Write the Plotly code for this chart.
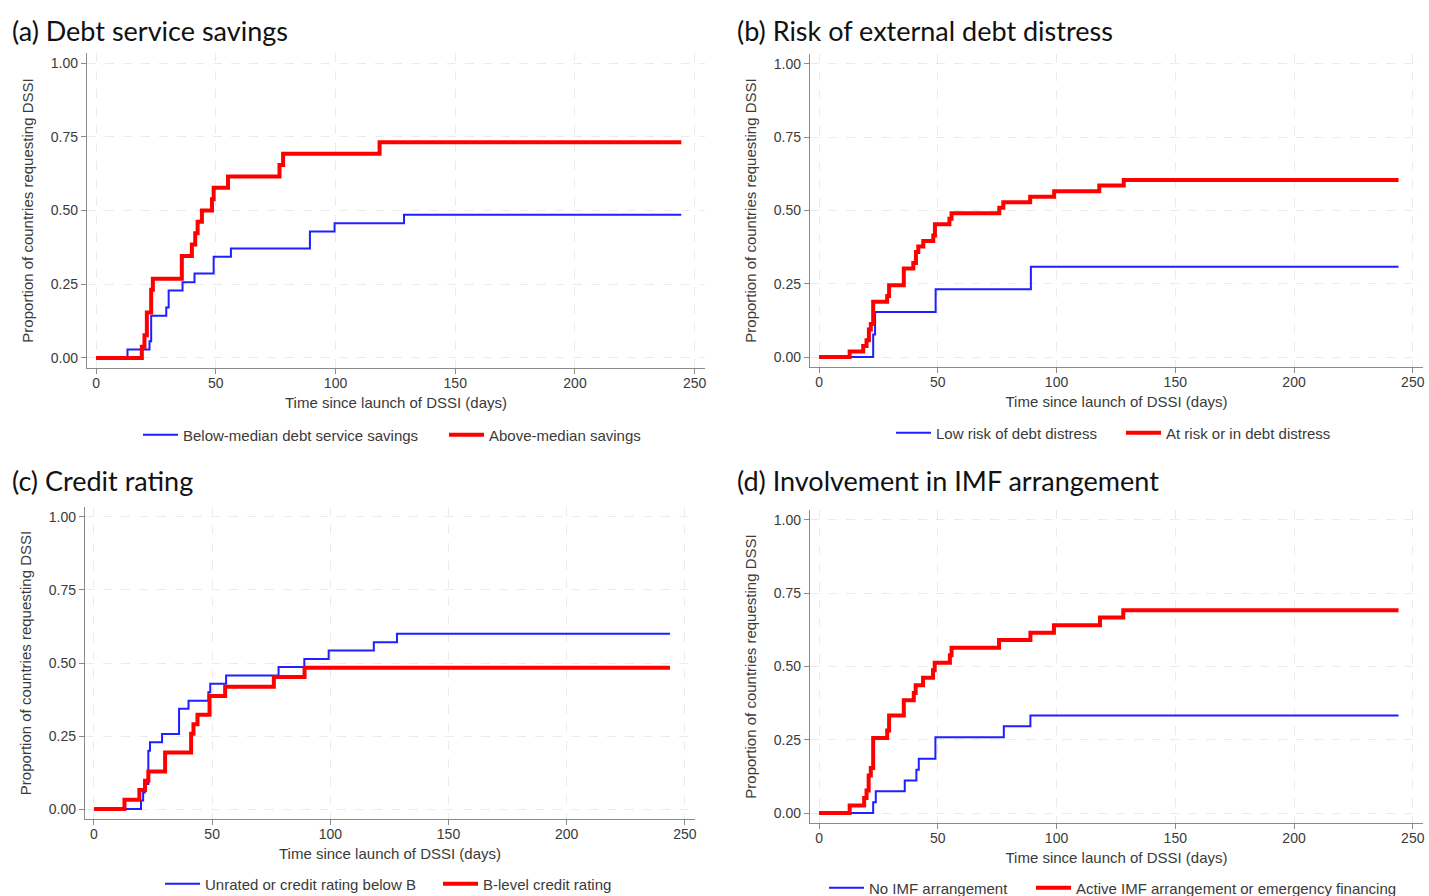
import plotly.graph_objects as go

# ---------------- data ----------------
# (a) Debt service savings
a_below_days = [0, 13.1, 22.3, 23.0, 29.3, 30.3, 36.1, 41.1, 49.1, 56.3, 89.3, 99.6, 128.6, 244.4]
a_below_vals = [0, 0.029, 0.057, 0.143, 0.171, 0.229, 0.257, 0.286, 0.343, 0.371, 0.429, 0.457, 0.486, 0.486]
a_above_days = [0, 19.1, 20.2, 21.2, 23.0, 23.7, 35.8, 40.0, 41.4, 42.4, 44.2, 48.4, 49.1, 55.1, 76.6, 78.1, 118.4, 244.4]
a_above_vals = [0, 0.038, 0.077, 0.154, 0.231, 0.269, 0.346, 0.385, 0.423, 0.462, 0.500, 0.538, 0.577, 0.615, 0.654, 0.692, 0.731, 0.731]

# (b) Risk of external debt distress
b_low_days = [0, 22.8, 23.6, 49.1, 89.2, 244.0]
b_low_vals = [0, 0.077, 0.154, 0.231, 0.308, 0.308]
b_risk_days = [0, 12.9, 18.6, 20.0, 21.0, 21.8, 22.8, 28.7, 29.5, 35.7, 39.7, 40.8, 41.8, 43.9, 48.1, 48.8,
               54.9, 55.8, 75.9, 77.6, 88.9, 99.0, 118.0, 128.3, 244.0]
b_risk_vals = [0, 0.019, 0.038, 0.057, 0.094, 0.113, 0.189, 0.208, 0.245, 0.302, 0.321, 0.358, 0.377, 0.396,
               0.415, 0.453, 0.472, 0.491, 0.509, 0.528, 0.547, 0.566, 0.585, 0.604, 0.604]

# (c) Credit rating
c_unrated_days = [0, 19.9, 20.8, 21.5, 23.0, 23.7, 28.8, 36.0, 40.0, 48.4, 49.2, 55.9, 78.1, 89.0, 99.3, 118.4, 128.2, 243.7]
c_unrated_vals = [0, 0.029, 0.057, 0.086, 0.200, 0.229, 0.257, 0.343, 0.371, 0.400, 0.429, 0.457, 0.486, 0.514,
                  0.543, 0.571, 0.600, 0.600]
c_blevel_days = [0, 12.9, 19.2, 21.6, 23.0, 30.1, 41.1, 42.1, 43.8, 48.9, 55.5, 76.1, 89.1, 243.7]
c_blevel_vals = [0, 0.032, 0.065, 0.097, 0.129, 0.194, 0.258, 0.290, 0.323, 0.387, 0.419, 0.452, 0.484, 0.484]

# (d) Involvement in IMF arrangement
d_noimf_days = [0, 22.8, 23.9, 36.1, 41.0, 42.0, 49.0, 77.8, 89.0, 244.0]
d_noimf_vals = [0, 0.037, 0.074, 0.111, 0.148, 0.185, 0.259, 0.296, 0.333, 0.333]
d_imf_days = [0, 12.9, 19.0, 20.0, 20.9, 21.8, 22.8, 28.7, 29.5, 35.7, 39.9, 40.7, 43.8, 48.0, 48.7, 55.1, 55.8,
              75.8, 89.0, 98.9, 118.3, 128.1, 244.0]
d_imf_vals = [0, 0.026, 0.051, 0.077, 0.128, 0.154, 0.256, 0.282, 0.333, 0.385, 0.410, 0.436, 0.462, 0.487, 0.513,
              0.538, 0.564, 0.590, 0.615, 0.641, 0.667, 0.692, 0.692]

panel_titles = ["(a) Debt service savings", "(b) Risk of external debt distress",
                "(c) Credit rating", "(d) Involvement in IMF arrangement"]
series_names = [
    ("Below-median debt service savings", "Above-median savings"),
    ("Low risk of debt distress", "At risk or in debt distress"),
    ("Unrated or credit rating below B", "B-level credit rating"),
    ("No IMF arrangement", "Active IMF arrangement or emergency financing"),
]
series_data = [
    (a_below_days, a_below_vals, a_above_days, a_above_vals),
    (b_low_days, b_low_vals, b_risk_days, b_risk_vals),
    (c_unrated_days, c_unrated_vals, c_blevel_days, c_blevel_vals),
    (d_noimf_days, d_noimf_vals, d_imf_days, d_imf_vals),
]
x_ticks = [0, 50, 100, 150, 200, 250]
y_ticks = [0.0, 0.25, 0.5, 0.75, 1.0]
x_title = "Time since launch of DSSI (days)"
y_title = "Proportion of countries requesting DSSI"

# ---------------- layout geometry (pixels) ----------------
W, H = 1429, 896
# plot areas: left, right, top, bottom
areas = [(87, 705, 53, 368), (810, 1423, 54, 367), (85, 695, 507, 819), (810, 1423, 510, 823)]
title_pos = [(10, 30), (735, 30), (10, 480), (735, 481)]
# legend item positions: (blue sample x, red sample x, y)
legend_pos = [(143, 449, 435), (896, 1126, 433), (165, 443, 884), (829, 1036, 888)]

BLUE = "#1f1fff"
RED = "#ff0000"
AXIS_GRAY = "#8a8a8a"
TEXT_GRAY = "#3a3a3a"
GRID = "#ebebeb"

fig = go.Figure()
layout = dict(
    width=W, height=H, margin=dict(l=0, r=0, t=0, b=0, autoexpand=False),
    paper_bgcolor="white", plot_bgcolor="white", showlegend=True,
    font=dict(family="Liberation Sans, Arial, sans-serif", size=14, color=TEXT_GRAY),
    annotations=[],
)

leg_count = 0
for i in range(4):
    idx = "" if i == 0 else str(i + 1)
    xa, ya = "x" + idx, "y" + idx
    bd, bv, rd, rv = series_data[i]
    bn, rn = series_names[i]
    bx, rx, ly = legend_pos[i]
    for (dx, dv, nm, col, wd, lx) in [(bd, bv, bn, BLUE, 2, bx), (rd, rv, rn, RED, 4, rx)]:
        leg_count += 1
        leg = "legend" if leg_count == 1 else "legend" + str(leg_count)
        fig.add_trace(go.Scatter(x=dx, y=dv, mode="lines", line=dict(color=col, width=wd, shape="hv"),
                                 name=nm, xaxis=xa, yaxis=ya, legend=leg, showlegend=True))
        layout[leg] = dict(
            orientation="h", x=(lx - 5) / W, y=1 - ly / H, xanchor="left", yanchor="middle",
            font=dict(size=15, color=TEXT_GRAY), bgcolor="rgba(0,0,0,0)", itemwidth=35,
            visible=True,
        )
    l, r, t, b = areas[i]
    layout["xaxis" + idx] = dict(
        domain=[l / W, r / W], anchor=ya, range=[-3.8, 254.3],
        tickvals=x_ticks, ticks="outside", ticklen=5, tickcolor=AXIS_GRAY,
        ticklabelstandoff=-3,
        showline=True, linecolor=AXIS_GRAY, linewidth=1.3,
        showgrid=True, gridcolor=GRID, griddash="dash", gridwidth=1.3, zeroline=False,
        tickfont=dict(size=14, color=TEXT_GRAY),
        title=dict(text=x_title, font=dict(size=15, color=TEXT_GRAY), standoff=7),
        automargin=False,
    )
    layout["yaxis" + idx] = dict(
        domain=[1 - b / H, 1 - t / H], anchor=xa, range=[-0.034, 1.034],
        tickvals=y_ticks, tickformat=".2f", ticks="outside", ticklen=5, tickcolor=AXIS_GRAY,
        showline=True, linecolor=AXIS_GRAY, linewidth=1.3,
        showgrid=True, gridcolor=GRID, griddash="dash", gridwidth=1.3, zeroline=False,
        tickfont=dict(size=14, color=TEXT_GRAY),
        title=dict(text=y_title, font=dict(size=15, color=TEXT_GRAY), standoff=13),
        automargin=False,
    )
    tx, ty = title_pos[i]
    layout["annotations"].append(dict(
        text=panel_titles[i], xref="paper", yref="paper", x=tx / W, y=1 - ty / H,
        xanchor="left", yanchor="middle", showarrow=False,
        font=dict(family="Lato, Open Sans, sans-serif", size=27, color="#111111"),
    ))

fig.update_layout(**layout)
fig.write_html("out.html", post_script="document.body.style.margin='0';",
               config={"displayModeBar": False})
